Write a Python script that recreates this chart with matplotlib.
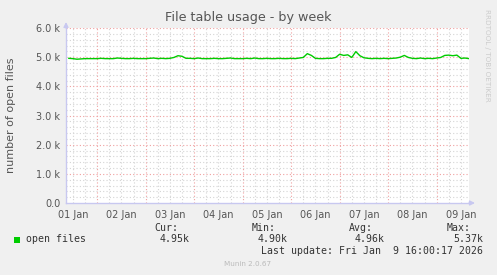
import matplotlib
matplotlib.use("Agg")
import matplotlib.pyplot as plt
import numpy as np
from matplotlib.ticker import FixedLocator

# ---- data ----
# hours since 01 Jan 00:00, sampled every 2 hours
start_hour = 8.6
end_hour = 208.0
sample_hours = list(range(10, 210, 2))
open_files = [
    4960, 4950, 4930, 4940, 4950,
    4950, 4950, 4950, 4960, 4950,
    4950, 4950, 4970, 4960, 4950,
    4950, 4960, 4950, 4950, 4950,
    4960, 4970, 4950, 4960, 4950,
    4960, 4990, 5050, 5030, 4960,
    4960, 4950, 4970, 4950, 4950,
    4950, 4960, 4950, 4950, 4960,
    4970, 4950, 4950, 4950, 4960,
    4950, 4970, 4950, 4950, 4960,
    4950, 4950, 4960, 4950, 4950,
    4960, 4950, 4970, 4990, 5120,
    5060, 4960, 4950, 4950, 4960,
    4960, 4990, 5100, 5060, 5080,
    4990, 5190, 5050, 4980, 4960,
    4950, 4960, 4950, 4960, 4950,
    4960, 4970, 5000, 5060, 4990,
    4960, 4950, 4970, 4950, 4960,
    4950, 4970, 4990, 5060, 5070,
    5050, 5070, 4960, 4970, 4950,
]
day_labels = ["01 Jan", "02 Jan", "03 Jan", "04 Jan", "05 Jan",
              "06 Jan", "07 Jan", "08 Jan", "09 Jan"]
y_ticks = [0, 1000, 2000, 3000, 4000, 5000, 6000]
y_tick_labels = ["0.0", "1.0 k", "2.0 k", "3.0 k", "4.0 k", "5.0 k", "6.0 k"]
title = "File table usage - by week"
ylabel = "number of open files"
legend_name = "open files"
stat_names = ["Cur:", "Min:", "Avg:", "Max:"]
stat_values = ["4.95k", "4.90k", "4.96k", "5.37k"]
last_update = "Last update: Fri Jan  9 16:00:17 2026"
munin_version = "Munin 2.0.67"
side_text = "RRDTOOL / TOBI OETIKER"

# ---- figure ----
W, H = 497, 275
BG = "#F0F0F0"
fig = plt.figure(figsize=(W / 100, H / 100), dpi=100, facecolor=BG)
L, R, T, B = 66, 469, 28, 203
ax = fig.add_axes([L / W, (H - B) / H, (R - L) / W, (B - T) / H])
ax.set_facecolor("white")

ax.set_xlim(start_hour, end_hour)
ax.set_ylim(0, 6000)

# grid
minor_x = np.arange(0, 216, 6)
major_x = np.arange(0, 216, 24)
for h in minor_x:
    if h % 24 != 0 and start_hour < h < end_hour:
        ax.axvline(h, color="#D4D4D4", lw=0.8, ls=(0, (1, 2)), zorder=1)
for y in np.arange(0, 6001, 200):
    if y % 1000 != 0:
        ax.axhline(y, color="#D4D4D4", lw=0.8, ls=(0, (1, 2)), zorder=1)
for h in major_x:
    if start_hour < h < end_hour:
        ax.axvline(h, color="#F0A0A0", lw=0.8, ls=(0, (1, 2)), zorder=2)
for y in y_ticks[1:]:
    ax.axhline(y, color="#F0A0A0", lw=0.8, ls=(0, (1, 2)), zorder=2)

ax.plot(sample_hours, open_files, color="#00CC00", lw=1.0, zorder=4)

for s in ["top", "right"]:
    ax.spines[s].set_visible(False)
for s in ["left", "bottom"]:
    ax.spines[s].set_color("#C8C8F0")
    ax.spines[s].set_linewidth(1.0)

# arrows
ax.annotate("", xy=(1.0 + 6 / (R - L), 0), xytext=(1.0, 0),
            xycoords="axes fraction",
            arrowprops=dict(arrowstyle="-|>", color="#C8C8F0", lw=1.0,
                            mutation_scale=7, shrinkA=0, shrinkB=0),
            annotation_clip=False)
ax.annotate("", xy=(0, 1.0 + 6 / (B - T)), xytext=(0, 1.0),
            xycoords="axes fraction",
            arrowprops=dict(arrowstyle="-|>", color="#C8C8F0", lw=1.0,
                            mutation_scale=7, shrinkA=0, shrinkB=0),
            annotation_clip=False)

ax.xaxis.set_major_locator(FixedLocator([12 + 24 * i for i in range(len(day_labels))]))
ax.set_xticklabels(day_labels)
ax.yaxis.set_major_locator(FixedLocator(y_ticks))
ax.set_yticklabels(y_tick_labels)
ax.tick_params(axis="both", length=0, labelsize=7, colors="#555555", pad=4)
ax.tick_params(axis="x", pad=5)

fig.text(248 / W, 1 - 18 / H, title, ha="center", va="center",
         fontsize=9.2, color="#555555")
fig.text(11 / W, 1 - 115 / H, ylabel, rotation=90, ha="center", va="center",
         fontsize=8, color="#555555")
fig.text(487 / W, 1 - 55 / H, side_text, rotation=270, ha="center", va="center",
         fontsize=5.2, color="#CCCCCC")

mono = "DejaVu Sans Mono"
fs = 7.1
# legend
fig.patches.append(plt.Rectangle((14 / W, 1 - 242.5 / H), 6 / W, 6 / H,
                                 transform=fig.transFigure, facecolor="#00CC00",
                                 edgecolor="none"))
fig.text(26 / W, 1 - 239.5 / H, legend_name, family=mono, fontsize=fs,
         color="#333333", va="center", ha="left")
name_x = [154, 252, 349, 447]
val_right = [190, 288, 385, 483]
for nx, vr, n, v in zip(name_x, val_right, stat_names, stat_values):
    fig.text(nx / W, 1 - 228 / H, n, family=mono, fontsize=fs, color="#333333",
             va="center", ha="left")
    fig.text(vr / W, 1 - 239.5 / H, v, family=mono, fontsize=fs, color="#333333",
             va="center", ha="right")
fig.text(483 / W, 1 - 251 / H, last_update, family=mono, fontsize=fs,
         color="#333333", va="center", ha="right")
fig.text(248 / W, 1 - 264 / H, munin_version, fontsize=5.2, color="#BBBBBB",
         va="center", ha="center")

fig.savefig("out.png", dpi=100, facecolor=BG)
